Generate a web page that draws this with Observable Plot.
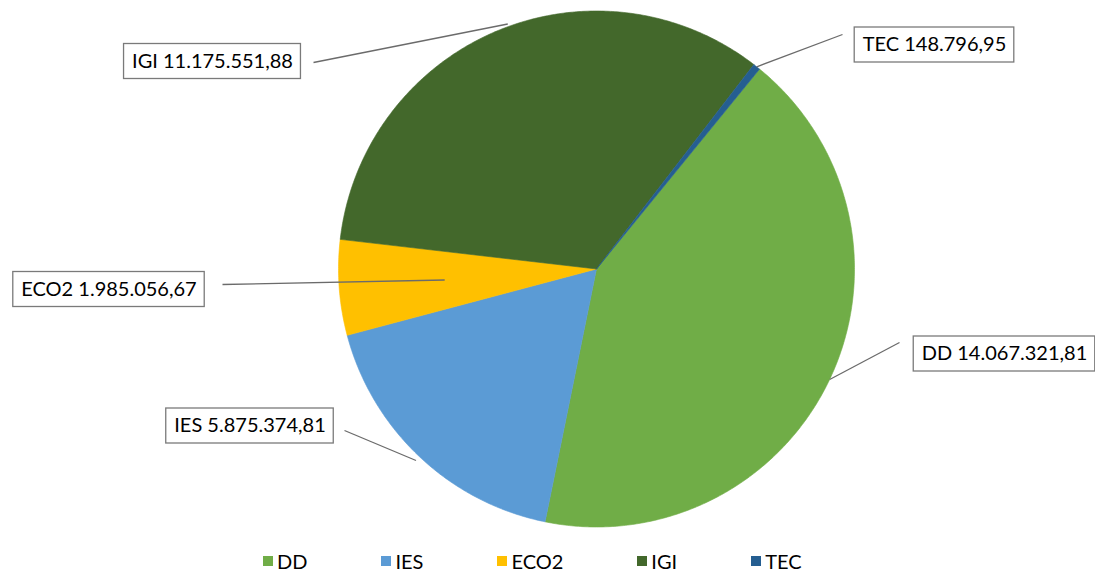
<!DOCTYPE html>
<html><head><meta charset="utf-8">
<script src="https://cdn.jsdelivr.net/npm/d3@7"></script>
<script src="https://cdn.jsdelivr.net/npm/@observablehq/plot@0.6"></script>
<style>
body{margin:0;background:#fff;font-family:Lato,"Open Sans",sans-serif;}
#wrap{width:1095px;height:574px;position:relative;overflow:hidden;}
#legend{position:absolute;left:263px;top:548px;height:26px;display:flex;align-items:center;font-size:20px;color:#000;white-space:nowrap;}
.item{display:flex;align-items:center;margin-right:74px;}
.sw{width:10px;height:10px;margin-right:4px;}
</style></head><body>
<div id="wrap"><div id="chart"></div><div id="legend"></div></div>
<script>
// ---- data ----
const categories = ["DD", "IES", "ECO2", "IGI", "TEC"];
const values = [14067321.81, 5875374.81, 1985056.67, 11175551.88, 148796.95];
const colors = ["#70AD47", "#5B9BD5", "#FFC000", "#43682B", "#255E91"];

// ---- layout ----
const W = 1095, H = 545;
const cx = 596, cy = 268.5, R = 258;
const startDeg = 39.2;
const fontSize = 20;
const fontFamily = "Lato, 'Open Sans', sans-serif";
// label box centers and leader start points (pixels), and where the leader ends relative to the slice
const labelCenter = [[1004, 353.5], [249.5, 425.5], [108.5, 289], [212, 61], [934, 44.5]];
const leaderStart = [[899, 342], [344, 430], [222, 284], [313, 62], [842, 34]];
const leaderFrac = [1, 1.02, 0.59, 1.01, 1];
const leaderAngleShift = [0, 0, 0, 3, 0];

const loc = d3.formatLocale({decimal: ",", thousands: ".", grouping: [3], currency: ["", ""]});
const fmt = loc.format(",.2f");

const arcs = d3.pie().sort(null).value(d => d)
  .startAngle(startDeg * Math.PI / 180)
  .endAngle(startDeg * Math.PI / 180 + 2 * Math.PI)(values);

const slicePts = [];
arcs.forEach((a, i) => {
  const n = Math.max(4, Math.ceil((a.endAngle - a.startAngle) / (Math.PI / 360)));
  slicePts.push({cat: categories[i], x: cx, y: cy});
  for (let k = 0; k <= n; k++) {
    const t = a.startAngle + (a.endAngle - a.startAngle) * k / n;
    slicePts.push({cat: categories[i], x: cx + R * Math.sin(t), y: cy - R * Math.cos(t)});
  }
  slicePts.push({cat: categories[i], x: cx, y: cy});
});

const ctx = document.createElement("canvas").getContext("2d");
ctx.font = `${fontSize}px ${fontFamily}`;

const labels = arcs.map((a, i) => {
  const text = `${categories[i]} ${fmt(values[i])}`;
  const w = ctx.measureText(text).width;
  const mid = (a.startAngle + a.endAngle) / 2 + leaderAngleShift[i] * Math.PI / 180;
  const [lx, ly] = labelCenter[i];
  return {
    text, cat: categories[i], lx, ly,
    x1: lx - w / 2 - 8, x2: lx + w / 2 + 8, y1: ly - 17.5, y2: ly + 17.5,
    sx: leaderStart[i][0], sy: leaderStart[i][1],
    ex: cx + R * leaderFrac[i] * Math.sin(mid), ey: cy - R * leaderFrac[i] * Math.cos(mid)
  };
});

const chart = Plot.plot({
  width: W, height: H,
  margin: 0,
  x: {domain: [0, W], range: [0, W], axis: null},
  y: {domain: [0, H], range: [0, H], axis: null},
  color: {domain: categories, range: colors},
  style: {fontFamily, background: "#fff"},
  marks: [
    Plot.line(slicePts, {x: "x", y: "y", z: "cat", fill: "cat", stroke: "cat", strokeWidth: 0.6, curve: "linear"}),
    Plot.link(labels, {x1: "sx", y1: "sy", x2: "ex", y2: "ey", stroke: "#6b6b6b", strokeWidth: 1.3}),
    Plot.rect(labels, {x1: "x1", x2: "x2", y1: "y1", y2: "y2", fill: "#fff", stroke: "#7a7a7a", strokeWidth: 1.3, inset: 0}),
    Plot.text(labels, {x: "lx", y: "ly", text: "text", fontSize, fill: "#000", textAnchor: "middle", lineAnchor: "middle"})
  ]
});
document.getElementById("chart").appendChild(chart);

const legend = document.getElementById("legend");
categories.forEach((c, i) => {
  const it = document.createElement("div");
  it.className = "item";
  const sw = document.createElement("div");
  sw.className = "sw"; sw.style.background = colors[i];
  const t = document.createElement("span");
  t.textContent = c;
  it.appendChild(sw); it.appendChild(t);
  legend.appendChild(it);
});
</script>
</body></html>
